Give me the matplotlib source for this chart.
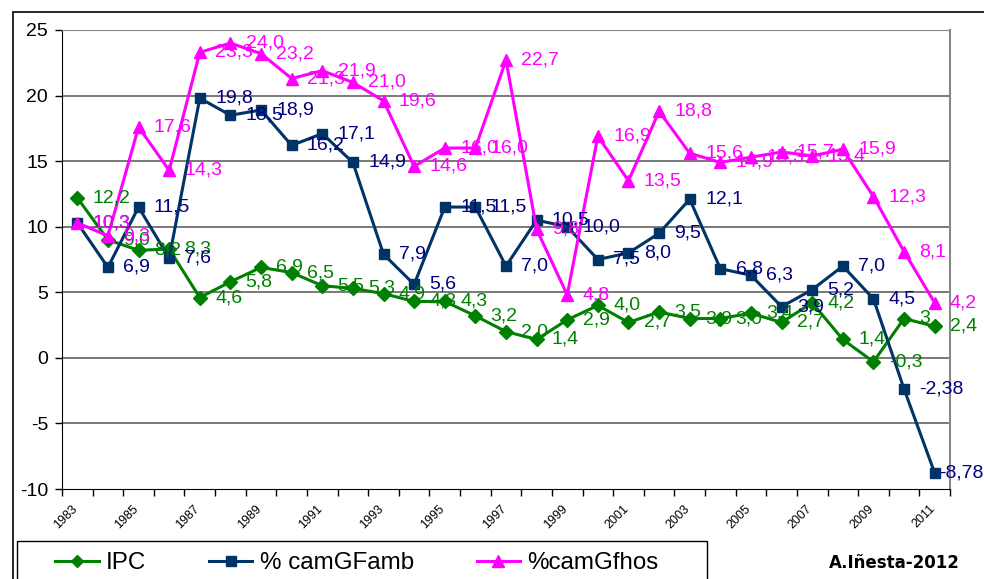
import matplotlib
matplotlib.use('Agg')
import matplotlib.pyplot as plt
import matplotlib.transforms as mtransforms
from matplotlib.patches import Rectangle

plt.rcParams['font.family'] = ['Liberation Sans', 'DejaVu Sans']
plt.rcParams['axes.unicode_minus'] = False

# Años 1983-2011
anios = [str(a) for a in range(1983, 2012)]

ipc = [12.2, 9.0, 8.2, 8.3, 4.6, 5.8, 6.9, 6.5, 5.5, 5.3, 4.9, 4.3, 4.3, 3.2, 2.0,
       1.4, 2.9, 4.0, 2.7, 3.5, 3.0, 3.0, 3.4, 2.7, 4.2, 1.4, -0.3, 3.0, 2.4]
cam_amb = [10.3, 6.9, 11.5, 7.6, 19.8, 18.5, 18.9, 16.2, 17.1, 14.9, 7.9, 5.6, 11.5, 11.5, 7.0,
           10.5, 10.0, 7.5, 8.0, 9.5, 12.1, 6.8, 6.3, 3.9, 5.2, 7.0, 4.5, -2.38, -8.78]
cam_hos = [10.3, 9.3, 17.6, 14.3, 23.3, 24.0, 23.2, 21.3, 21.9, 21.0, 19.6, 14.6, 16.0, 16.0, 22.7,
           9.8, 4.8, 16.9, 13.5, 18.8, 15.6, 14.9, 15.3, 15.7, 15.4, 15.9, 12.3, 8.1, 4.2]

nombres = ['IPC', '% camGFamb', '%camGfhos']
# etiquetas que no siguen el formato de un decimal
etiq_especiales = {('IPC', '2010'): '3'}
# etiquetas desplazadas para que quepan en el gráfico
desplaz_especiales = {('% camGFamb', '2011'): 3}


def etiqueta(v, nombre, anio):
    if (nombre, anio) in etiq_especiales:
        return etiq_especiales[(nombre, anio)]
    if abs(v * 10 - round(v * 10)) > 1e-6:
        txt = '%.2f' % v
    else:
        txt = '%.1f' % v
    return txt.replace('.', ',')


fig = plt.figure(figsize=(9.84, 5.79), dpi=100)
ax = fig.add_axes([62 / 984, 1 - 489 / 579, (950 - 62) / 984, (489 - 30) / 579])

x = list(range(len(anios)))
series = [
    (ipc, nombres[0], '#008000', '#008000', 'D', 7, 3),
    (cam_amb, nombres[1], '#003366', '#000080', 's', 7.5, 4),
    (cam_hos, nombres[2], '#FF00FF', '#FF00FF', '^', 9, 5),
]

lineas = []
for datos, nombre, col, col_txt, mk, ms, z in series:
    l, = ax.plot(x, datos, color=col, lw=2.2, marker=mk, ms=ms, mfc=col, mec=col,
                 zorder=z, label=nombre)
    lineas.append(l)

for datos, nombre, col, col_txt, mk, ms, z in series:
    for i, v in enumerate(datos):
        dx = desplaz_especiales.get((nombre, anios[i]), 11)
        ax.annotate(etiqueta(v, nombre, anios[i]), (i, v), xytext=(dx, 0),
                    textcoords='offset points', ha='left', va='center',
                    fontsize=14, color=col_txt, zorder=10, annotation_clip=False)

ax.set_xlim(-0.5, len(anios) - 0.5)
ax.set_ylim(-10, 25)
ax.set_yticks(range(-10, 30, 5))
ax.tick_params(axis='y', labelsize=14, length=5, width=1, pad=5, direction='out')
for yv in range(-5, 30, 5):
    ax.axhline(yv, color='#555555', lw=1.1, zorder=1)

ax.set_xticks(x[::2])
ax.set_xticklabels(anios[::2], rotation=45, ha='right', rotation_mode='anchor',
                   fontsize=9)
ax.tick_params(axis='x', which='major', length=0, pad=10)
desp = mtransforms.ScaledTranslation(-6 / 100, 0, fig.dpi_scale_trans)
for lab in ax.get_xticklabels():
    lab.set_transform(lab.get_transform() + desp)
ax.set_xticks([i - 0.5 for i in range(len(anios) + 1)], minor=True)
ax.tick_params(axis='x', which='minor', length=5, width=1, direction='out')

ax.spines['left'].set_color('black')
ax.spines['bottom'].set_color('black')
ax.spines['right'].set_color('#888888')
ax.spines['top'].set_color('#888888')
ax.spines['right'].set_linewidth(1.5)

# marco exterior del gráfico
fig.add_artist(Rectangle((13 / 984, -0.1), 1.2, 1 - 12 / 579 + 0.1, transform=fig.transFigure,
                         fill=False, ec='black', lw=1.2))

# caja de la leyenda
fig.add_artist(Rectangle((17 / 984, -0.1), (707 - 17) / 984, 0.1 + 38 / 579,
                         transform=fig.transFigure, fill=False, ec='black', lw=1.0))
fig.legend(handles=lineas, labels=nombres, ncol=3, frameon=False, loc='center left',
           bbox_to_anchor=(43 / 984, 1 - 563 / 579), fontsize=17.4, handlelength=1.8,
           handletextpad=0.3, columnspacing=2.6, borderpad=0, markerscale=0.9)

fig.text(960 / 984, 1 - 563 / 579, 'A.Iñesta-2012', ha='right', va='center',
         fontsize=12, fontweight='bold', family='DejaVu Sans')

fig.savefig('out.png', dpi=100)
